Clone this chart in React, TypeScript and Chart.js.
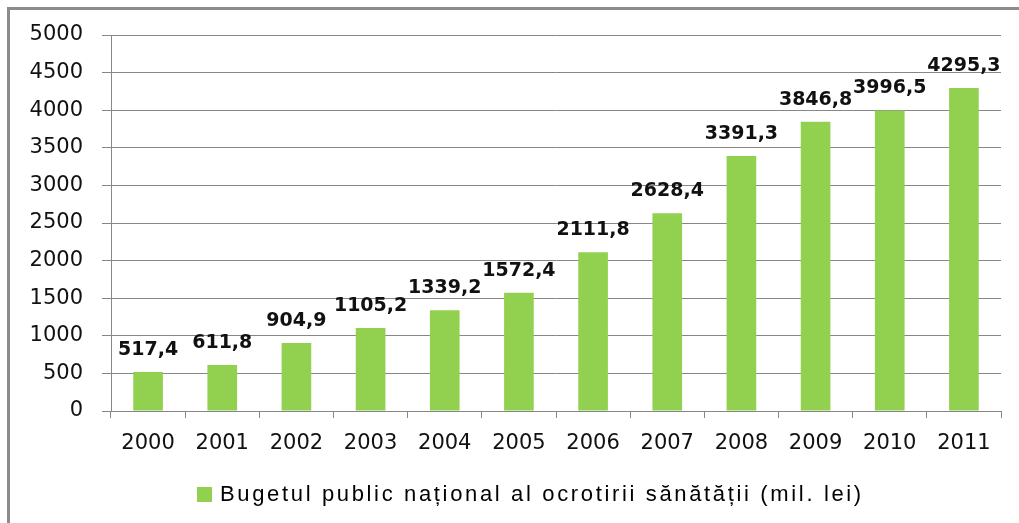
import React, { useEffect, useRef } from "react";
import { Chart, registerables } from "chart.js";

Chart.register(...registerables);

const years = ["2000", "2001", "2002", "2003", "2004", "2005", "2006", "2007", "2008", "2009", "2010", "2011"];
const budget = [517.4, 611.8, 904.9, 1105.2, 1339.2, 1572.4, 2111.8, 2628.4, 3391.3, 3846.8, 3996.5, 4295.3];
const seriesName = "Bugetul public național al ocrotirii sănătății (mil. lei)";

const GREEN = "#92D050";
const GRID = "#878787";

const dataLabels = {
  id: "dataLabels",
  afterDatasetsDraw(chart: any) {
    const ctx = chart.ctx;
    const meta = chart.getDatasetMeta(0);
    ctx.save();
    ctx.font = "bold 19px 'DejaVu Sans'";
    ctx.fillStyle = "#111";
    ctx.textAlign = "center";
    ctx.textBaseline = "alphabetic";
    meta.data.forEach((bar: any, i: number) => {
      const v = chart.data.datasets[0].data[i] as number;
      const txt = v.toFixed(1).replace(".", ",");
      ctx.fillText(txt, bar.x, bar.y - 17);
    });
    ctx.restore();
  },
};

export default function App() {
  const ref = useRef<HTMLCanvasElement>(null);
  useEffect(() => {
    document.body.style.margin = "0";
    const chart = new Chart(ref.current!, {
      type: "bar",
      data: {
        labels: years,
        datasets: [
          {
            label: seriesName,
            data: budget,
            backgroundColor: GREEN,
            borderWidth: 0,
            barPercentage: 0.8,
            categoryPercentage: 0.5,
          },
        ],
      },
      options: {
        animation: false,
        responsive: false,
        maintainAspectRatio: false,
        layout: { padding: { top: 35, right: 18, left: 0, bottom: 62 } },
        plugins: {
          tooltip: { enabled: false },
          legend: { display: false },
        },
        scales: {
          x: {
            afterFit: (s: any) => {
              s.height = 50;
            },
            grid: {
              offset: true,
              drawOnChartArea: false,
              drawTicks: true,
              tickLength: 7,
              color: GRID,
            },
            border: { display: true, color: GRID, width: 1 },
            ticks: {
              font: { family: "'DejaVu Sans'", size: 21 },
              color: "#111",
              padding: 13,
            },
          },
          y: {
            min: 0,
            max: 5000,
            afterFit: (s: any) => {
              s.width = 111;
            },
            grid: { color: GRID, tickLength: 9, drawTicks: true },
            border: { display: true, color: GRID, width: 1 },
            ticks: {
              stepSize: 500,
              font: { family: "'DejaVu Sans'", size: 21 },
              color: "#111",
              padding: 19,
              callback: (v: any) => String(v),
            },
          },
        },
      },
      plugins: [dataLabels],
    });
    return () => chart.destroy();
  }, []);
  return (
    <div style={{ position: "relative", width: 1019, height: 523, background: "#fff", overflow: "hidden" }}>
      <div
        style={{
          position: "absolute",
          left: 7,
          top: 7,
          right: -10,
          bottom: -10,
          borderLeft: "3px solid #8c8c8c",
          borderTop: "3px solid #8c8c8c",
        }}
      />
      <canvas ref={ref} width={1019} height={523} style={{ position: "absolute", left: 0, top: 0 }} />
      <div
        style={{
          position: "absolute",
          left: 197,
          top: 480,
          height: 28,
          display: "flex",
          alignItems: "center",
          whiteSpace: "nowrap",
          fontFamily: "'Liberation Sans', Arial, sans-serif",
          fontSize: 22,
          letterSpacing: "2.65px",
          color: "#000",
        }}
      >
        <span style={{ display: "inline-block", width: 15, height: 15, background: GREEN, marginRight: 8 }} />
        <span>{seriesName}</span>
      </div>
    </div>
  );
}
